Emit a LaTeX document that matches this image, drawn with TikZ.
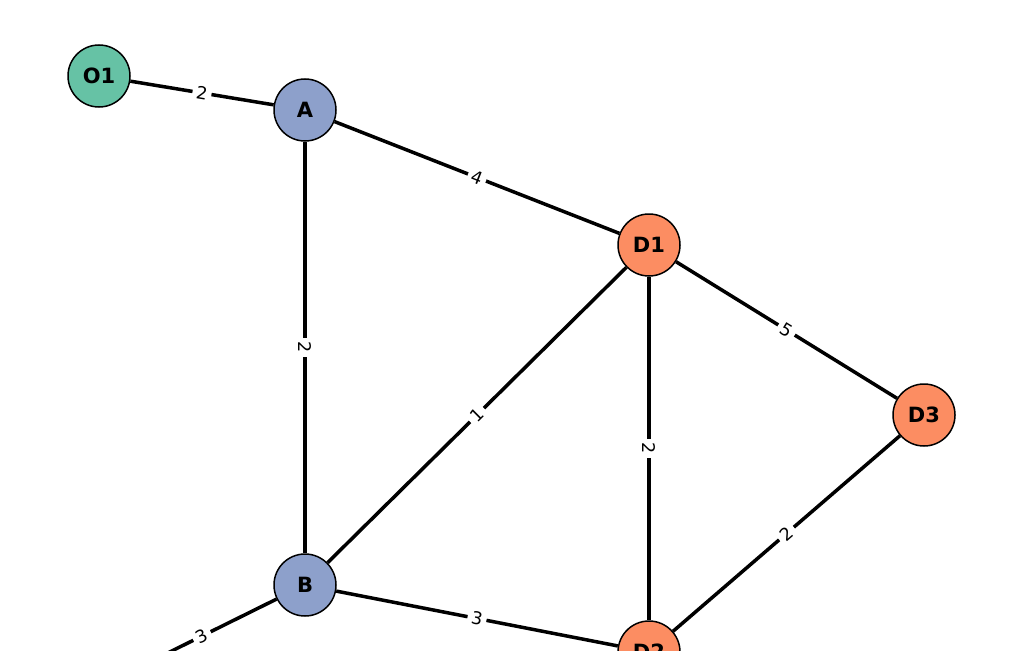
\documentclass[tikz,border=0pt]{standalone}
\usepackage{fontspec}
\setmainfont{DejaVu Sans}
\definecolor{cO}{HTML}{66C2A5}
\definecolor{cA}{HTML}{8DA0CB}
\definecolor{cD}{HTML}{FC8D62}
\begin{document}
\begin{tikzpicture}[x=1pt,y=-1pt,
  vtx/.style={circle,draw=black,line width=1.5pt,minimum size=62pt,inner sep=0pt,font=\fontsize{21}{21}\selectfont\bfseries},
  edge/.style={line width=3.5pt,black},
  wlab/.style={fill=white,inner sep=4pt,font=\fontsize{17.5}{17.5}\selectfont}]
\useasboundingbox (0,0) rectangle (1024,650);
\clip (0,0) rectangle (1024,650);
\node[vtx,fill=cO] (O1) at (99,76) {O1};
\node[vtx,fill=cA] (A) at (305,110) {A};
\node[vtx,fill=cA] (B) at (305,585) {B};
\node[vtx,fill=cD] (D1) at (649,245) {D1};
\node[vtx,fill=cD] (D3) at (924,415) {D3};
\node[vtx,fill=cD] (D2) at (649,652) {D2};
\node[vtx,fill=cO] (O2) at (99,687) {};
\draw[edge] (O1) -- node[wlab,rotate=-9.4] {2} (A);
\draw[edge] (A) -- node[wlab,rotate=-21.4] {4} (D1);
\draw[edge] (A) -- node[wlab,rotate=-90] {2} (B);
\draw[edge] (B) -- node[wlab,rotate=44.7] {1} (D1);
\draw[edge] (D1) -- node[wlab,rotate=-31.7] {5} (D3);
\draw[edge] (D1) -- node[wlab,rotate=-90] {2} (D2);
\draw[edge] (D2) -- node[wlab,rotate=40.8] {2} (D3);
\draw[edge] (B) -- node[wlab,rotate=-11.0] {3} (D2);
\draw[edge] (O2) -- node[wlab,rotate=26.3] {3} (B);
\end{tikzpicture}
\end{document}
